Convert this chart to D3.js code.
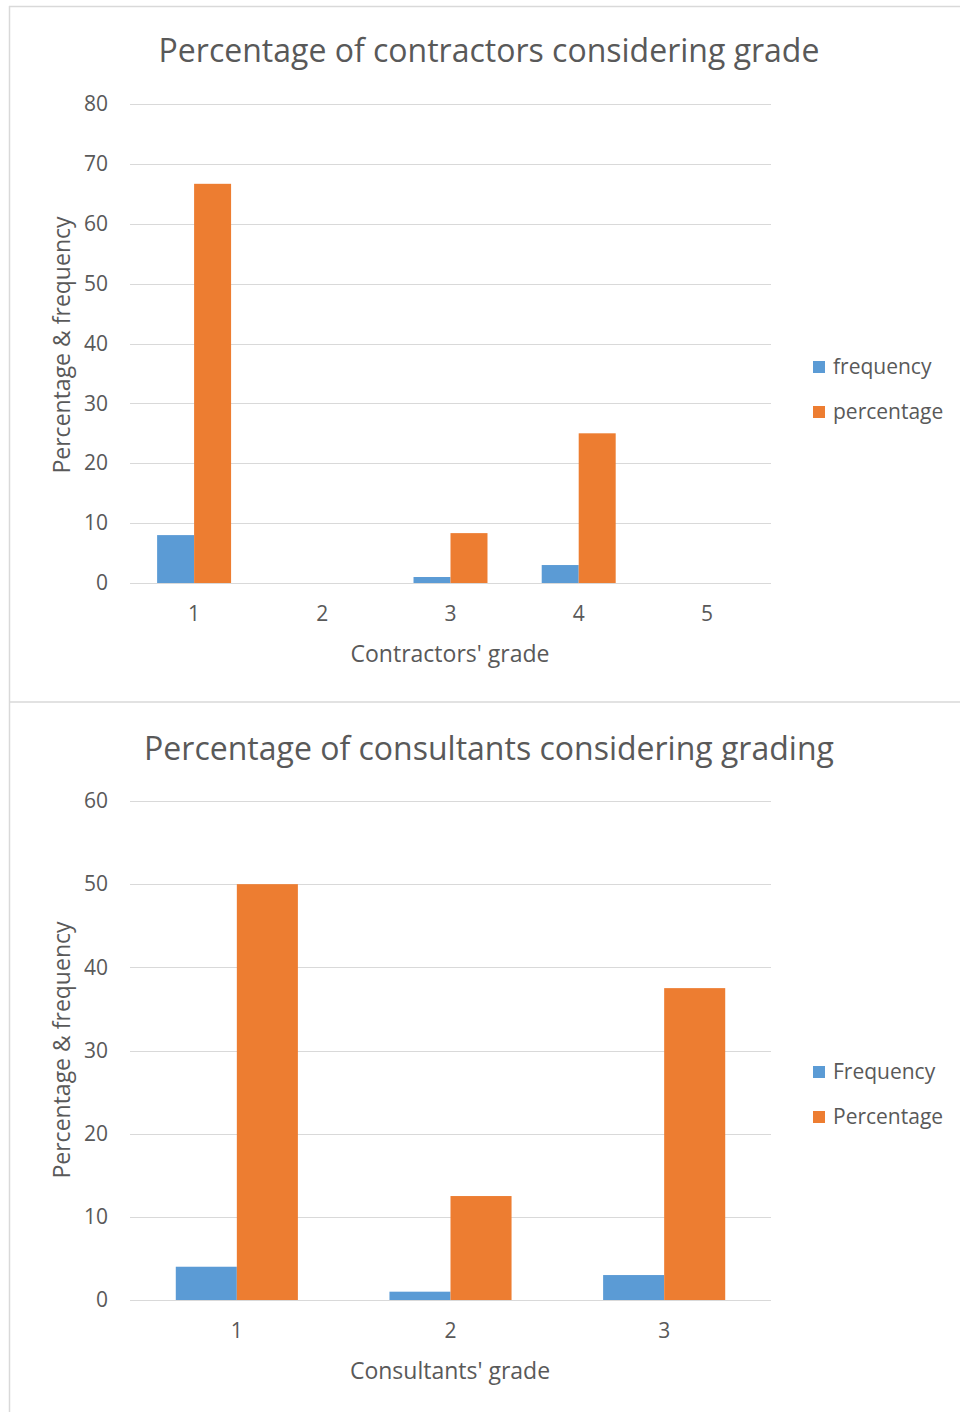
<!DOCTYPE html>
<html>
<head>
<meta charset="utf-8">
<script src="https://cdn.jsdelivr.net/npm/d3@7"></script>
<style>
  html, body { margin: 0; padding: 0; background: #fff; }
  svg { display: block; }
  text { font-family: "Open Sans", "DejaVu Sans", sans-serif; fill: #595959; }
</style>
</head>
<body>
<svg id="fig" width="960" height="1412"></svg>
<script>
// ---- Contractors chart data ----
const contractorGrades = ["1", "2", "3", "4", "5"];
const contractorFrequency = [8, 0, 1, 3, 0];
const contractorPercentage = [66.67, 0, 8.33, 25, 0];
const contractorTicks = [0, 10, 20, 30, 40, 50, 60, 70, 80];
const contractorSeries = ["frequency", "percentage"];

// ---- Consultants chart data ----
const consultantGrades = ["1", "2", "3"];
const consultantFrequency = [4, 1, 3];
const consultantPercentage = [50, 12.5, 37.5];
const consultantTicks = [0, 10, 20, 30, 40, 50, 60];
const consultantSeries = ["Frequency", "Percentage"];

const seriesColors = ["#5b9bd5", "#ed7d31"];

const svg = d3.select("#fig");

// chart frames
svg.append("line").attr("x1", 9.5).attr("x2", 9.5).attr("y1", 6).attr("y2", 1412)
  .attr("stroke", "#d9d9d9").attr("stroke-width", 1.5);
svg.append("line").attr("x1", 9).attr("x2", 960).attr("y1", 6.5).attr("y2", 6.5)
  .attr("stroke", "#d9d9d9").attr("stroke-width", 1.5);
svg.append("line").attr("x1", 9).attr("x2", 960).attr("y1", 702).attr("y2", 702)
  .attr("stroke", "#d9d9d9").attr("stroke-width", 1.5);

function drawChart(opt) {
  const g = svg.append("g");
  const rows = opt.categories.map((c, i) => ({ cat: c, values: [opt.freq[i], opt.pct[i]] }));

  const x = d3.scaleBand().domain(opt.categories).range([130, 771]).padding(0);
  const xi = d3.scaleBand().domain(opt.series).range([0, x.bandwidth()])
    .paddingInner(0).paddingOuter(opt.groupPad);
  const y = d3.scaleLinear().domain([0, d3.max(opt.ticks)]).range([opt.y0, opt.yTop]);

  // gridlines
  g.append("g").selectAll("line").data(opt.ticks).join("line")
    .attr("x1", 130).attr("x2", 771)
    .attr("y1", d => Math.round(y(d)) + 0.5).attr("y2", d => Math.round(y(d)) + 0.5)
    .attr("stroke", "#d9d9d9").attr("stroke-width", 1.2);

  // y tick labels
  const yAxis = d3.axisLeft(y).tickValues(opt.ticks).tickSize(0).tickPadding(0);
  const ya = g.append("g").attr("transform", "translate(108,0)").call(yAxis);
  ya.select(".domain").remove();
  ya.selectAll("text").attr("font-size", 21).attr("fill", "#595959")
    .style("font-family", "'Open Sans', sans-serif");

  // bars
  const groups = g.append("g").selectAll("g").data(rows).join("g")
    .attr("transform", d => `translate(${x(d.cat)},0)`);
  groups.selectAll("rect").data(d => d.values.map((v, k) => ({ v, k }))).join("rect")
    .attr("x", d => xi(opt.series[d.k]))
    .attr("width", xi.bandwidth())
    .attr("y", d => y(d.v))
    .attr("height", d => y(0) - y(d.v))
    .attr("fill", d => seriesColors[d.k]);

  // x tick labels
  const xAxis = d3.axisBottom(x).tickSize(0).tickPadding(0);
  const xa = g.append("g").attr("transform", `translate(0,${opt.y0 + 23})`).call(xAxis);
  xa.select(".domain").remove();
  xa.selectAll("text").attr("font-size", 21).attr("fill", "#595959")
    .style("font-family", "'Open Sans', sans-serif");

  // title
  g.append("text").attr("x", 489).attr("y", opt.titleY).attr("text-anchor", "middle")
    .attr("font-size", 32).text(opt.title);
  // axis titles
  g.append("text").attr("x", 450).attr("y", opt.xTitleY).attr("text-anchor", "middle")
    .attr("font-size", 23).text(opt.xTitle);
  g.append("text").attr("transform", `translate(70,${opt.yTitleMid}) rotate(-90)`)
    .attr("text-anchor", "middle").attr("font-size", 23).text(opt.yTitle);

  // legend
  const lg = g.append("g").selectAll("g").data(opt.series).join("g")
    .attr("transform", (d, i) => `translate(813,${opt.legendY + i * 45})`);
  lg.append("rect").attr("x", 0).attr("y", -6).attr("width", 12).attr("height", 12)
    .attr("fill", (d, i) => seriesColors[i]);
  lg.append("text").attr("x", 20).attr("y", 7).attr("font-size", 21).text(d => d);
}

drawChart({
  categories: contractorGrades, freq: contractorFrequency, pct: contractorPercentage,
  ticks: contractorTicks, series: contractorSeries, groupPad: 0.733,
  y0: 583, yTop: 104, titleY: 62, xTitleY: 662, yTitleMid: 345,
  title: "Percentage of contractors considering grade",
  xTitle: "Contractors' grade", yTitle: "Percentage & frequency", legendY: 367
});

drawChart({
  categories: consultantGrades, freq: consultantFrequency, pct: consultantPercentage,
  ticks: consultantTicks, series: consultantSeries, groupPad: 0.75,
  y0: 1300, yTop: 801, titleY: 760, xTitleY: 1379, yTitleMid: 1050,
  title: "Percentage of consultants considering grading",
  xTitle: "Consultants' grade", yTitle: "Percentage & frequency", legendY: 1072
});
</script>
</body>
</html>
